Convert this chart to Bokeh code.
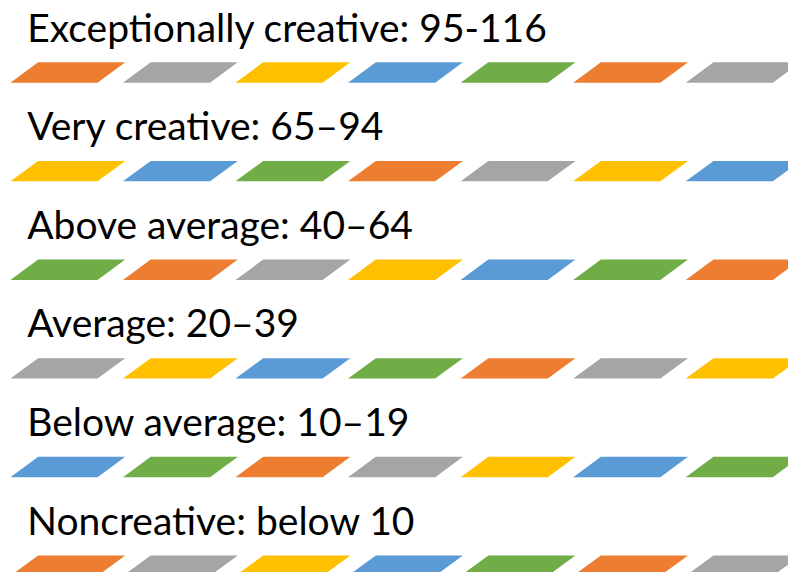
from bokeh.plotting import figure
from bokeh.models import Range1d, ColumnDataSource
from bokeh.core.properties import value
from bokeh.embed import file_html
from bokeh.resources import INLINE

# ---- data ----
labels = [
    "Exceptionally creative: 95-116",
    "Very creative: 65\u201394",
    "Above average: 40\u201364",
    "Average: 20\u201339",
    "Below average: 10\u201319",
    "Noncreative: below 10",
]
ORANGE, GRAY, GOLD, BLUE, GREEN = "#ED7D31", "#A5A5A5", "#FFC000", "#5B9BD5", "#70AD47"
row1_colors = [ORANGE, GRAY, GOLD, BLUE, GREEN, ORANGE, GRAY]
row2_colors = [GOLD, BLUE, GREEN, ORANGE, GRAY, GOLD, BLUE]
row3_colors = [GREEN, ORANGE, GRAY, GOLD, BLUE, GREEN, ORANGE]
row4_colors = [GRAY, GOLD, BLUE, GREEN, ORANGE, GRAY, GOLD]
row5_colors = [BLUE, GREEN, ORANGE, GRAY, GOLD, BLUE, GREEN]
row6_colors = [ORANGE, GRAY, GOLD, BLUE, GREEN, ORANGE, GRAY]
stripe_rows = [row1_colors, row2_colors, row3_colors, row4_colors, row5_colors, row6_colors]

# ---- layout (in reference-pixel units) ----
row_step = 100.0
text_x = 27.0
text_mid0 = 26.5
stripe_top0 = 62.7
stripe_bot0 = 83.3
stripe_x0 = 10.0
stripe_period = 113.7
stripe_w = 88.0
stripe_skew = 28.0

p = figure(width=788, height=572, x_range=Range1d(0, 796), y_range=Range1d(580, 0),
           toolbar_location=None, output_backend="svg",
           min_border_left=0, min_border_right=0, min_border_top=0, min_border_bottom=0)
p.axis.visible = False
p.xgrid.visible = False
p.ygrid.visible = False
p.outline_line_color = None
p.background_fill_color = "white"
p.border_fill_color = "white"

xs, ys, cols = [], [], []
for i, row in enumerate(stripe_rows):
    top = stripe_top0 + i * row_step
    bot = stripe_bot0 + i * row_step
    for k, c in enumerate(row):
        x0 = stripe_x0 + k * stripe_period
        xs.append([x0, x0 + stripe_skew, x0 + stripe_skew + stripe_w, x0 + stripe_w])
        ys.append([bot, top, top, bot])
        cols.append(c)
p.patches(xs="xs", ys="ys", fill_color="c", line_color=None,
          source=ColumnDataSource(dict(xs=xs, ys=ys, c=cols)))

tsrc = ColumnDataSource(dict(x=[text_x] * len(labels),
                             y=[text_mid0 + i * row_step for i in range(len(labels))],
                             t=labels))
p.text(x="x", y="y", text="t", source=tsrc, text_baseline="middle", text_align="left",
       text_font=value("Lato"), text_font_size="39px", text_color="black")

open("out.html", "w").write(file_html(p, INLINE))
